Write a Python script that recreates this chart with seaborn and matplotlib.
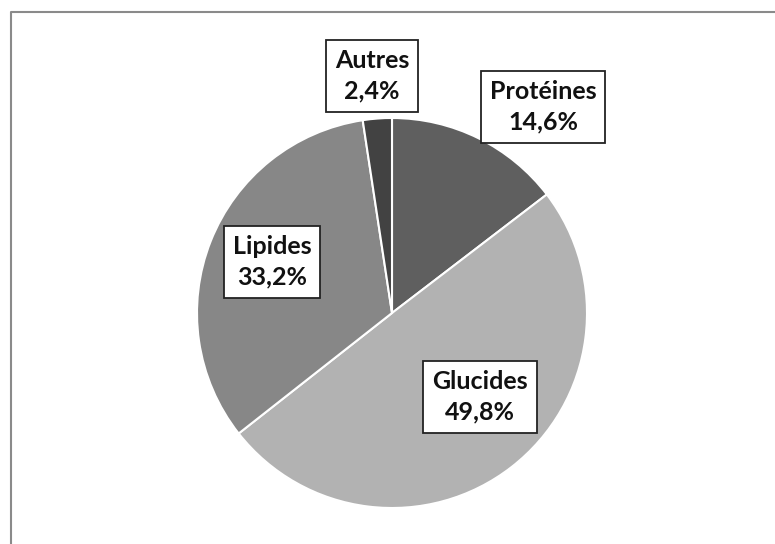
import matplotlib
matplotlib.use('Agg')
import matplotlib.pyplot as plt
import seaborn as sns
from matplotlib.lines import Line2D

# Data
categories = ['Protéines', 'Glucides', 'Lipides', 'Autres']
shares = [14.6, 49.8, 33.2, 2.4]
slice_colors = ['#5f5f5f', '#b2b2b2', '#878787', '#424242']

# Label box centres in pixel coords (origin top-left)
LABEL_POS = {
    'Protéines': (543, 107),
    'Glucides': (480, 397),
    'Lipides': (272, 262),
    'Autres': (372, 76),
}

W, H = 775, 544
CENTER = (392, 313)
RADIUS = 195

sns.set_theme(style='white')
plt.rcParams['font.family'] = ['Lato', 'DejaVu Sans']

fig = plt.figure(figsize=(W / 100, H / 100), dpi=100)
ax = fig.add_axes([0, 0, 1, 1])

# y axis is inverted below, so flip the direction to keep clockwise order from 12 o'clock
ax.pie(shares, colors=slice_colors, startangle=-90, counterclock=True,
       center=CENTER, radius=RADIUS, frame=True,
       wedgeprops={'edgecolor': 'white', 'linewidth': 1.5})
ax.set_xlim(0, W)
ax.set_ylim(H, 0)
ax.set_aspect('equal')
ax.axis('off')

for name, val in zip(categories, shares):
    x, y = LABEL_POS[name]
    txt = f"{name}\n{val:.1f}".replace('.', ',') + '%'
    ax.text(x, y, txt, ha='center', va='center', fontsize=18, fontweight='bold',
            color='#111111', linespacing=1.4,
            bbox=dict(boxstyle='square,pad=0.35', facecolor='white',
                      edgecolor='#222222', linewidth=1.3))

# outer chart frame (only left and top edges visible in the crop)
fig.add_artist(Line2D([11 / W, 11 / W, 1.0], [0.0, 1 - 12 / H, 1 - 12 / H],
                      transform=fig.transFigure, color='#8a8a8a', linewidth=1.5))

fig.savefig('out.png', dpi=100, facecolor='white')
